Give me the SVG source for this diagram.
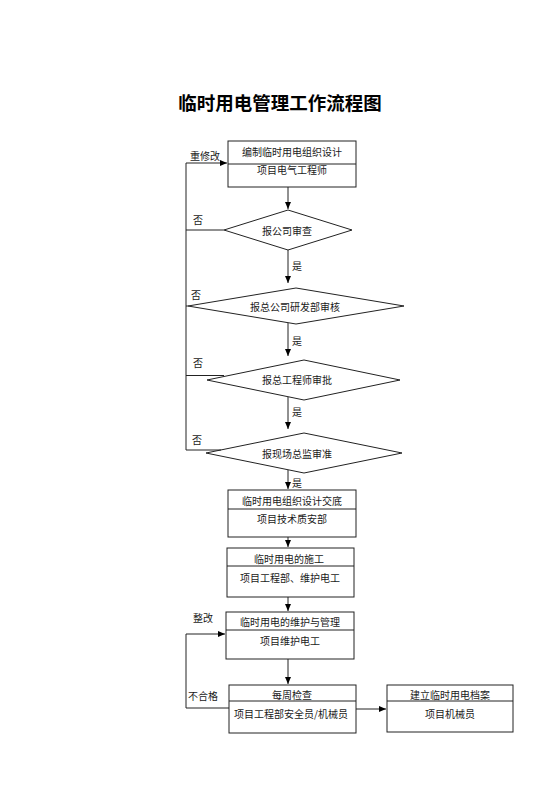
<svg xmlns="http://www.w3.org/2000/svg" width="560" height="792" viewBox="0 0 560 792">
<defs>
<marker id="ah" markerWidth="8" markerHeight="8" refX="7" refY="4" orient="auto" markerUnits="userSpaceOnUse">
<path d="M0,1 L7,4 L0,7 Z" fill="#000"/>
</marker>
<style>
.t{font-family:"Noto Sans CJK SC","Noto Sans",sans-serif;font-size:10px;fill:#1a1a1a;text-anchor:middle;dominant-baseline:central}
.l{font-family:"Noto Sans CJK SC","Noto Sans",sans-serif;font-size:10px;fill:#1a1a1a;dominant-baseline:central}
.s{fill:#fff;stroke:#222;stroke-width:1}
.c{fill:none;stroke:#222;stroke-width:1}
.a{fill:none;stroke:#222;stroke-width:1;marker-end:url(#ah)}
</style>
</defs>
<rect width="560" height="792" fill="#fff"/>
<text x="280" y="102" class="t" style="font-size:18.5px;font-weight:bold;fill:#000">临时用电管理工作流程图</text>

<g id="box1">
<rect x="228" y="141" width="128" height="46" class="s"/>
<line x1="228" y1="164" x2="356" y2="164" class="c"/>
<text x="292" y="151" class="t">编制临时用电组织设计</text>
<text x="292" y="169" class="t">项目电气工程师</text>
</g>
<g id="d1">
<polygon points="288,210 352,230 288,250 224,230" class="s"/>
<text x="287" y="230" class="t">报公司审查</text>
</g>
<g id="d2">
<polygon points="296,288 404,306 296,324 188,306" class="s"/>
<text x="295" y="306" class="t">报总公司研发部审核</text>
</g>
<g id="d3">
<polygon points="304,360 400,380 304,400 207,380" class="s"/>
<text x="297" y="379" class="t">报总工程师审批</text>
</g>
<g id="d4">
<polygon points="304,433 402,453 304,473 206,453" class="s"/>
<text x="297" y="453" class="t">报现场总监审准</text>
</g>
<g id="box2">
<rect x="228" y="490" width="128" height="47" class="s"/>
<line x1="228" y1="509" x2="356" y2="509" class="c"/>
<text x="292" y="500" class="t">临时用电组织设计交底</text>
<text x="292" y="518" class="t">项目技术质安部</text>
</g>
<g id="box3">
<rect x="227" y="548" width="127" height="49" class="s"/>
<line x1="227" y1="566" x2="354" y2="566" class="c"/>
<text x="289" y="558" class="t">临时用电的施工</text>
<text x="290" y="577" class="t">项目工程部、维护电工</text>
</g>
<g id="box4">
<rect x="226" y="612" width="128" height="47" class="s"/>
<line x1="226" y1="630" x2="354" y2="630" class="c"/>
<text x="290" y="621" class="t">临时用电的维护与管理</text>
<text x="290" y="640" class="t">项目维护电工</text>
</g>
<g id="box5">
<rect x="229" y="685" width="127" height="48" class="s"/>
<line x1="229" y1="701" x2="356" y2="701" class="c"/>
<text x="292" y="694" class="t">每周检查</text>
<text x="291" y="713" class="t">项目工程部安全员/机械员</text>
</g>
<g id="box6">
<rect x="387" y="685" width="126" height="47" class="s"/>
<line x1="387" y1="701" x2="513" y2="701" class="c"/>
<text x="450" y="694" class="t">建立临时用电档案</text>
<text x="450" y="713" class="t">项目机械员</text>
</g>

<g id="connectors">
<line x1="288" y1="187" x2="288" y2="209" class="a"/>
<line x1="288" y1="250" x2="288" y2="283" class="a"/>
<line x1="288" y1="323" x2="288" y2="356" class="a"/>
<line x1="288" y1="397" x2="288" y2="429" class="a"/>
<line x1="288" y1="470" x2="288" y2="489" class="a"/>
<line x1="288" y1="537" x2="288" y2="547" class="a"/>
<line x1="288" y1="597" x2="288" y2="611" class="a"/>
<line x1="288" y1="659" x2="288" y2="684" class="a"/>
<polyline points="224,230 186,230" class="c"/>
<polyline points="224,375.5 186,375.5" class="c"/>
<polyline points="221,450 186,450" class="c"/>
<polyline points="188,306 186,306" class="c"/>
<polyline points="186,450 186,163 227,163" class="a"/>
<polyline points="229,708 186,708 186,634 225,634" class="a"/>
<line x1="356" y1="709" x2="386" y2="709" class="a"/>
<text x="190" y="155" class="l">重修改</text>
<text x="193" y="219" class="l">否</text>
<text x="191" y="294" class="l">否</text>
<text x="193" y="362" class="l">否</text>
<text x="192" y="439" class="l">否</text>
<text x="292" y="265" class="l">是</text>
<text x="292" y="340" class="l">是</text>
<text x="292" y="411" class="l">是</text>
<text x="292" y="482" class="l">是</text>
<text x="193" y="617" class="l">整改</text>
<text x="188" y="695" class="l">不合格</text>
</g>
</svg>
